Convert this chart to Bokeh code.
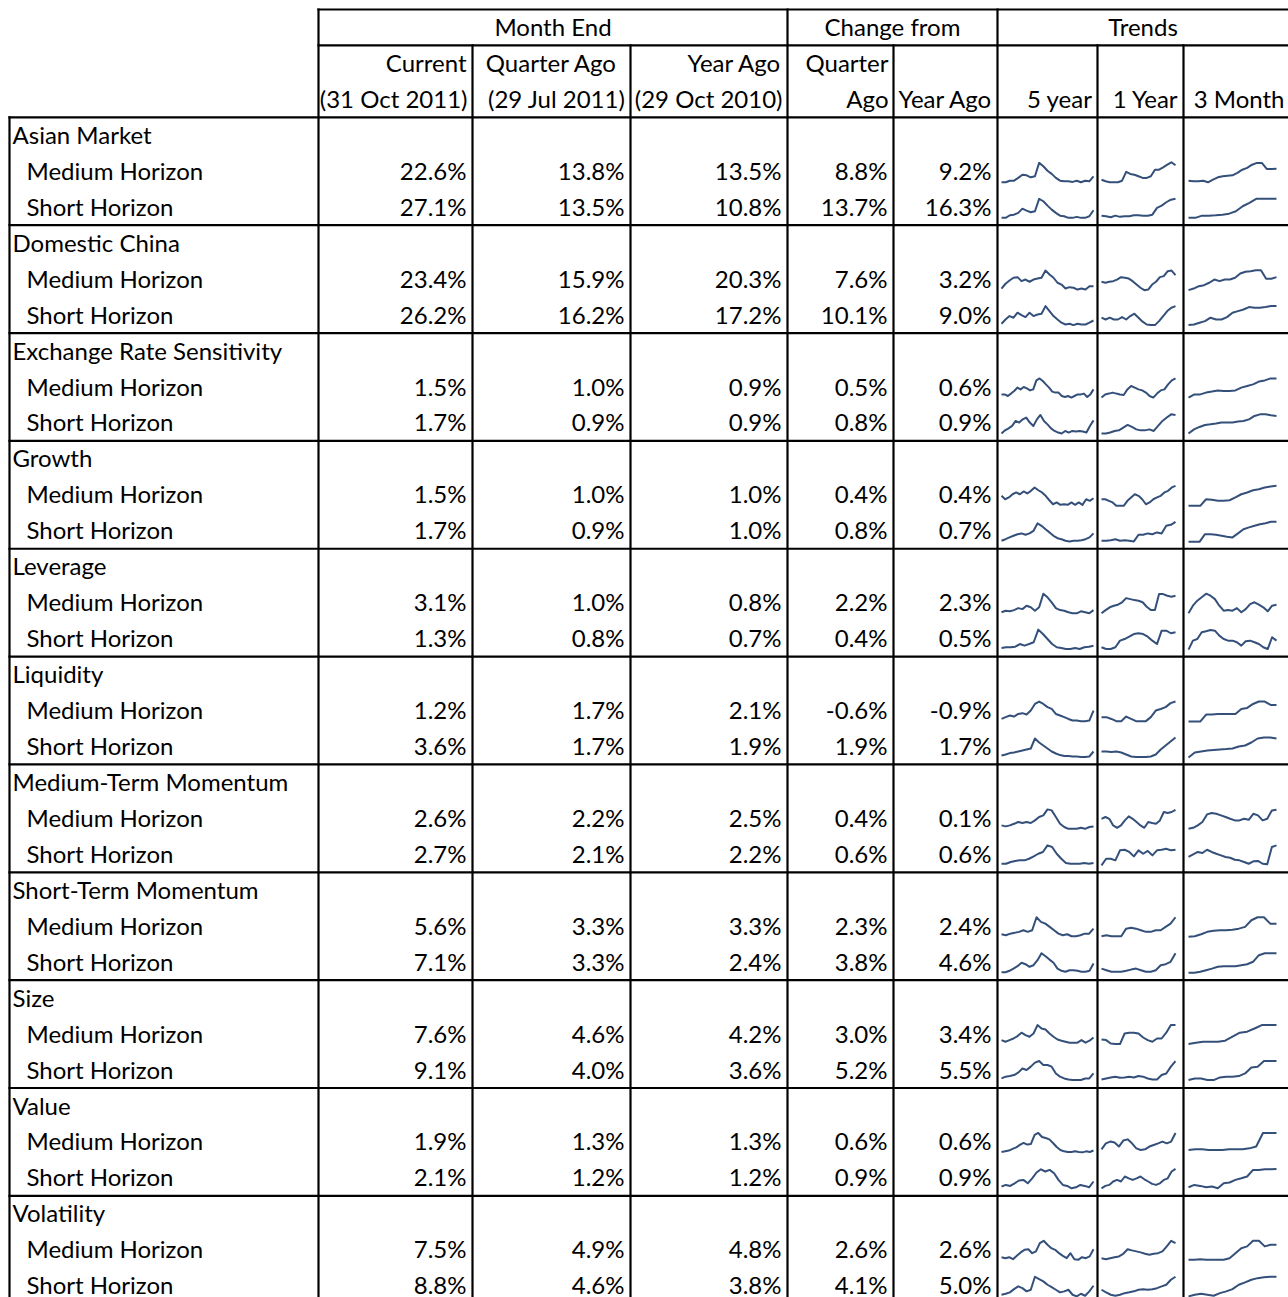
from bokeh.plotting import figure
from bokeh.models import ColumnDataSource, Range1d
from bokeh.embed import file_html
from bokeh.resources import INLINE
from bokeh.core.properties import value

# ---------------- data ----------------
factors = ["Asian Market", "Domestic China", "Exchange Rate Sensitivity", "Growth",
           "Leverage", "Liquidity", "Medium-Term Momentum", "Short-Term Momentum",
           "Size", "Value", "Volatility"]
horizons = ["Medium Horizon", "Short Horizon"]

# rows in order: factor1 medium, factor1 short, factor2 medium, ...
current = [22.6, 27.1, 23.4, 26.2, 1.5, 1.7, 1.5, 1.7, 3.1, 1.3, 1.2, 3.6,
           2.6, 2.7, 5.6, 7.1, 7.6, 9.1, 1.9, 2.1, 7.5, 8.8]
quarter_ago = [13.8, 13.5, 15.9, 16.2, 1.0, 0.9, 1.0, 0.9, 1.0, 0.8, 1.7, 1.7,
               2.2, 2.1, 3.3, 3.3, 4.6, 4.0, 1.3, 1.2, 4.9, 4.6]
year_ago = [13.5, 10.8, 20.3, 17.2, 0.9, 0.9, 1.0, 1.0, 0.8, 0.7, 2.1, 1.9,
            2.5, 2.2, 3.3, 2.4, 4.2, 3.6, 1.3, 1.2, 4.8, 3.8]
chg_quarter = [8.8, 13.7, 7.6, 10.1, 0.5, 0.8, 0.4, 0.8, 2.2, 0.4, -0.6, 1.9,
               0.4, 0.6, 2.3, 3.8, 3.0, 5.2, 0.6, 0.9, 2.6, 4.1]
chg_year = [9.2, 16.3, 3.2, 9.0, 0.6, 0.9, 0.4, 0.7, 2.3, 0.5, -0.9, 1.7,
            0.1, 0.6, 2.4, 4.6, 3.4, 5.5, 0.6, 0.9, 2.6, 5.0]

header_top = ["Month End", "Change from", "Trends"]
header_mid = ["Current", "Quarter Ago", "Year Ago", "Quarter"]
header_low = ["(31 Oct 2011)", "(29 Jul 2011)", "(29 Oct 2010)", "Ago", "Year Ago",
              "5 year", "1 Year", "3 Month"]

# sparkline shapes (0 = lowest, 100 = highest of each line)
trend_5y = [
    [0, 0, 8, 8, 22, 38, 35, 25, 30, 97, 80, 58, 42, 22, 8, 5, 5, 2, 8, 0, 8, 5, 30],
    [2, 2, 15, 18, 27, 48, 38, 30, 35, 97, 85, 63, 43, 27, 13, 10, 2, 2, 7, 2, 2, 10, 40],
    [8, 32, 48, 62, 65, 45, 53, 42, 53, 58, 62, 98, 78, 62, 37, 28, 8, 15, 12, 3, 8, 3, 20, 20],
    [12, 33, 50, 42, 67, 55, 45, 67, 50, 58, 62, 100, 75, 50, 33, 17, 8, 12, 5, 12, 8, 8, 17, 28],
    [18, 18, 10, 22, 35, 52, 43, 55, 48, 38, 43, 88, 98, 85, 68, 52, 32, 27, 27, 10, 5, 10, 2, 10, 18, 18, 22, 5, 18, 43],
    [2, 18, 28, 40, 65, 57, 73, 82, 57, 40, 73, 95, 65, 48, 28, 15, 7, 2, 15, 7, 15, 12, 15, 12, 7, 40, 68],
    [50, 33, 42, 58, 67, 58, 72, 62, 75, 92, 78, 67, 50, 28, 8, 17, 5, 8, 5, 17, 5, 17, 5, 33, 25, 38],
    [5, 13, 22, 30, 38, 42, 35, 42, 55, 92, 80, 63, 47, 30, 18, 13, 5, 2, 5, 5, 8, 13, 22, 42],
    [7, 15, 12, 18, 28, 23, 40, 32, 15, 32, 100, 82, 57, 28, 18, 15, 7, 2, 2, 12, 7, 2, 18],
    [8, 12, 12, 15, 28, 20, 28, 37, 100, 78, 53, 28, 12, 8, 3, 3, 8, 3, 12, 15, 20],
    [13, 22, 30, 25, 38, 42, 35, 55, 88, 100, 88, 72, 63, 38, 30, 22, 13, 5, 5, 2, 2, 5, 55],
    [10, 15, 22, 25, 30, 35, 40, 45, 95, 75, 60, 45, 30, 20, 12, 8, 8, 5, 5, 3, 2, 5, 30],
    [20, 15, 20, 28, 37, 32, 37, 32, 45, 62, 70, 100, 95, 62, 28, 12, 3, 3, 3, 8, 3, 12, 15],
    [8, 8, 17, 22, 25, 25, 33, 45, 58, 67, 100, 92, 58, 33, 12, 8, 8, 8, 12, 8, 12],
    [15, 10, 18, 22, 27, 35, 27, 35, 100, 77, 68, 52, 35, 18, 10, 15, 5, 5, 10, 18, 18, 43],
    [5, 5, 12, 23, 35, 52, 45, 32, 40, 65, 100, 85, 68, 52, 23, 12, 7, 15, 15, 12, 7, 7, 12, 48],
    [25, 17, 25, 33, 45, 62, 50, 42, 58, 100, 83, 78, 58, 42, 28, 22, 17, 12, 12, 12, 25, 12, 22, 38],
    [13, 22, 25, 30, 42, 63, 55, 72, 92, 100, 80, 80, 72, 38, 22, 13, 8, 5, 5, 5, 13, 13, 38],
    [5, 8, 12, 20, 28, 40, 50, 42, 45, 90, 100, 80, 75, 68, 50, 30, 15, 8, 5, 5, 8, 5, 3, 8, 5, 12],
    [12, 20, 15, 28, 42, 45, 28, 53, 82, 98, 87, 95, 78, 45, 20, 15, 3, 8, 20, 15, 8, 37],
    [18, 13, 18, 8, 25, 42, 55, 58, 38, 47, 88, 100, 80, 63, 55, 38, 25, 13, 38, 8, 5, 18, 13, 22, 58],
    [10, 15, 22, 38, 52, 43, 27, 35, 100, 88, 77, 60, 48, 35, 22, 27, 35, 10, 2, 15, 5, 27, 55],
]
trend_1y = [
    [13, 5, 0, 0, 0, 8, 52, 42, 38, 30, 22, 22, 30, 63, 63, 75, 88, 100, 85],
    [13, 10, 5, 13, 7, 10, 10, 15, 15, 13, 13, 18, 52, 63, 80, 93, 98],
    [42, 37, 42, 45, 53, 65, 62, 58, 45, 28, 12, 0, 3, 28, 42, 65, 70, 95, 98, 75],
    [42, 33, 42, 33, 33, 45, 33, 50, 62, 42, 22, 8, 5, 5, 25, 50, 75, 92, 100],
    [2, 18, 22, 27, 22, 18, 15, 43, 60, 52, 43, 38, 27, 10, 2, 22, 38, 43, 68, 88, 98],
    [2, 2, 7, 15, 18, 32, 45, 35, 23, 18, 18, 23, 15, 40, 65, 82, 98, 95],
    [33, 33, 25, 17, 0, 0, 0, 25, 42, 58, 50, 33, 8, 17, 33, 42, 50, 67, 75, 92, 100],
    [5, 5, 8, 13, 5, 8, 5, 2, 35, 35, 42, 38, 47, 42, 80, 85, 100],
    [2, 18, 32, 40, 45, 57, 78, 73, 68, 65, 57, 35, 18, 18, 98, 98, 90, 85, 90],
    [12, 3, 3, 12, 45, 53, 65, 78, 82, 78, 65, 45, 28, 95, 95, 82, 87],
    [22, 22, 13, 2, 2, 25, 13, 2, 2, 2, 22, 55, 63, 72, 92, 100],
    [30, 30, 28, 30, 25, 15, 5, 2, 2, 2, 5, 15, 40, 60, 80, 100],
    [53, 62, 53, 20, 8, 20, 45, 65, 53, 37, 20, 8, 37, 32, 28, 45, 87, 82, 87, 98],
    [0, 33, 33, 25, 75, 78, 67, 45, 75, 58, 72, 50, 75, 78, 83, 75, 78],
    [5, 10, 5, 5, 5, 43, 48, 43, 35, 27, 27, 35, 35, 52, 68, 100],
    [23, 15, 7, 7, 7, 12, 18, 23, 15, 7, 7, 15, 40, 45, 57, 100],
    [28, 25, 8, 5, 5, 58, 62, 62, 58, 38, 25, 17, 33, 33, 62, 100, 100],
    [8, 13, 18, 22, 17, 18, 22, 18, 25, 22, 13, 8, 8, 30, 38, 72, 100],
    [18, 48, 57, 52, 32, 62, 68, 48, 23, 15, 18, 32, 40, 48, 57, 48, 57, 100],
    [3, 15, 20, 37, 45, 37, 62, 53, 45, 53, 62, 48, 37, 25, 20, 28, 45, 53, 87, 100],
    [13, 8, 13, 18, 22, 35, 58, 52, 47, 42, 35, 30, 35, 38, 47, 72, 100, 88],
    [35, 22, 10, 5, 10, 18, 22, 27, 35, 38, 35, 38, 43, 52, 60, 85, 100],
]
trend_3m = [
    [8, 5, 5, 8, 0, 13, 25, 30, 33, 35, 47, 63, 72, 88, 97, 97, 67, 67, 68],
    [2, 2, 13, 13, 15, 18, 23, 35, 60, 77, 97, 98, 98, 98],
    [0, 8, 20, 25, 37, 53, 45, 53, 53, 62, 83, 92, 95, 100, 100, 57, 57, 65],
    [5, 8, 17, 25, 42, 33, 33, 45, 67, 75, 83, 95, 92, 92, 95, 100, 100],
    [2, 18, 18, 27, 32, 38, 35, 35, 38, 52, 60, 68, 82, 88, 98, 98],
    [2, 23, 35, 45, 48, 52, 57, 57, 57, 62, 65, 73, 90, 98, 98, 93, 90],
    [0, 0, 0, 33, 30, 25, 25, 28, 42, 58, 67, 78, 83, 92, 97, 100],
    [0, 0, 0, 38, 38, 35, 30, 25, 22, 42, 63, 72, 80, 88, 93, 100, 100],
    [2, 40, 65, 82, 100, 90, 73, 40, 15, 18, 15, 28, 7, 23, 48, 57, 45, 32, 12, 40, 45],
    [0, 45, 53, 87, 92, 98, 95, 70, 53, 45, 45, 37, 20, 42, 45, 37, 28, 12, 3, 62, 45],
    [0, 0, 0, 35, 35, 38, 38, 38, 38, 63, 68, 88, 100, 100, 83, 83],
    [0, 25, 30, 35, 38, 40, 42, 45, 55, 60, 75, 95, 100, 100, 95],
    [3, 8, 20, 37, 75, 82, 78, 70, 62, 53, 45, 45, 53, 48, 78, 70, 45, 53, 95, 98],
    [42, 55, 67, 62, 78, 67, 58, 50, 42, 38, 28, 25, 17, 8, 20, 22, 8, 5, 92, 100],
    [2, 5, 15, 27, 32, 35, 35, 38, 43, 52, 85, 100, 100, 68, 68],
    [2, 2, 7, 15, 23, 32, 35, 35, 35, 40, 45, 57, 90, 100, 100, 100],
    [5, 12, 17, 17, 17, 22, 42, 62, 67, 83, 100, 100, 100],
    [5, 13, 13, 5, 5, 18, 22, 22, 25, 38, 68, 72, 100, 100, 100],
    [15, 18, 18, 15, 15, 15, 18, 18, 18, 23, 32, 100, 100, 100],
    [8, 20, 15, 8, 12, 3, 28, 32, 45, 53, 62, 95, 95, 98, 98, 100],
    [5, 5, 8, 5, 5, 5, 5, 13, 38, 63, 72, 100, 100, 72, 80, 80],
    [2, 10, 15, 10, 5, 18, 27, 38, 60, 72, 85, 93, 98, 100, 100],
]

# ---------------- layout (picture pixel coordinates) ----------------
W, H = 1288, 1297
TOP, ROW_H = 9, 35.95
TEXT_OFF = 17
RIGHT, BOTTOM = 1300, 1310
edges = [9, 318, 472, 630, 787, 893, 997, 1097, 1183]
FONT = "Lato"
FSIZE = "24px"
LINE_COLOR = "#34507A"


def rtext(r):
    return TOP + ROW_H * r + TEXT_OFF


def rtop(r):
    return TOP + ROW_H * r


p = figure(width=W, height=H, x_range=Range1d(0, W), y_range=Range1d(H, 0),
           toolbar_location=None, output_backend="svg", x_axis_location=None,
           y_axis_location=None, min_border=0, outline_line_color=None,
           background_fill_color="white", border_fill_color="white")
p.grid.visible = False

# ---- grid lines ----
sx0, sy0, sx1, sy1 = [], [], [], []
for (xa, ya, xb) in [(edges[1], rtop(0), RIGHT), (edges[1], rtop(1), RIGHT)]:
    sx0.append(xa); sy0.append(ya); sx1.append(xb); sy1.append(ya)
for g in range(len(factors)):
    y = rtop(3 + 3 * g)
    sx0.append(edges[0]); sy0.append(y); sx1.append(RIGHT); sy1.append(y)
# verticals
sx0.append(edges[0]); sy0.append(rtop(3)); sx1.append(edges[0]); sy1.append(BOTTOM)
for i in (1, 4, 6):
    sx0.append(edges[i]); sy0.append(rtop(0)); sx1.append(edges[i]); sy1.append(BOTTOM)
for i in (2, 3, 5, 7, 8):
    sx0.append(edges[i]); sy0.append(rtop(1)); sx1.append(edges[i]); sy1.append(BOTTOM)
p.segment(x0=sx0, y0=sy0, x1=sx1, y1=sy1, line_color="black", line_width=2.2,
          line_cap="square")

# ---- texts ----
left_t, left_x, left_y = [], [], []
right_t, right_x, right_y = [], [], []
cen_t, cen_x, cen_y = [], [], []

# header row 0
for txt, (a, b) in zip(header_top, [(edges[1], edges[4]), (edges[4], edges[6]), (edges[6], 1288)]):
    cen_t.append(txt); cen_x.append((a + b) / 2); cen_y.append(rtext(0))
# header row 1
right_t += [header_mid[0], header_mid[2], header_mid[3]]
right_x += [edges[2] - 6, edges[4] - 6, edges[5] - 5]
right_y += [rtext(1)] * 3
cen_t.append(header_mid[1]); cen_x.append((edges[2] + edges[3]) / 2); cen_y.append(rtext(1))
# header row 2
for k, txt in enumerate(header_low):
    xr = edges[k + 2] - 5 if k < 7 else 1284
    right_t.append(txt); right_x.append(xr); right_y.append(rtext(2))

cols = [current, quarter_ago, year_ago, chg_quarter, chg_year]
for g, f in enumerate(factors):
    r0 = 3 + 3 * g
    left_t.append(f); left_x.append(12); left_y.append(rtext(r0))
    for h in range(2):
        k = 2 * g + h
        r = r0 + 1 + h
        left_t.append(horizons[h]); left_x.append(26); left_y.append(rtext(r))
        for c, col in enumerate(cols):
            right_t.append(f"{col[k]:.1f}%"); right_x.append(edges[c + 2] - 6); right_y.append(rtext(r))

common = dict(text_font=value(FONT), text_font_size=FSIZE, text_color="black",
              text_baseline="middle")
p.text(x="x", y="y", text="t", text_align="left",
       source=ColumnDataSource(dict(x=left_x, y=left_y, t=left_t)), **common)
p.text(x="x", y="y", text="t", text_align="right",
       source=ColumnDataSource(dict(x=right_x, y=right_y, t=right_t)), **common)
p.text(x="x", y="y", text="t", text_align="center",
       source=ColumnDataSource(dict(x=cen_x, y=cen_y, t=cen_t)), **common)

# ---- sparklines ----
spark_x = [(1001, 1093), (1101, 1175), (1188, 1276)]
xs, ys = [], []
for trends, (xa, xb) in zip([trend_5y, trend_1y, trend_3m], spark_x):
    for k, vals in enumerate(trends):
        g, h = divmod(k, 2)
        r = 3 + 3 * g + 1 + h
        n = len(vals)
        xs.append([xa + i * (xb - xa) / (n - 1) for i in range(n)])
        ys.append([rtop(r) + 29 - v / 100 * 20 for v in vals])
p.multi_line(xs=xs, ys=ys, line_color=LINE_COLOR, line_width=2.0, line_join="round")

open("out.html", "w").write(file_html(p, INLINE))
